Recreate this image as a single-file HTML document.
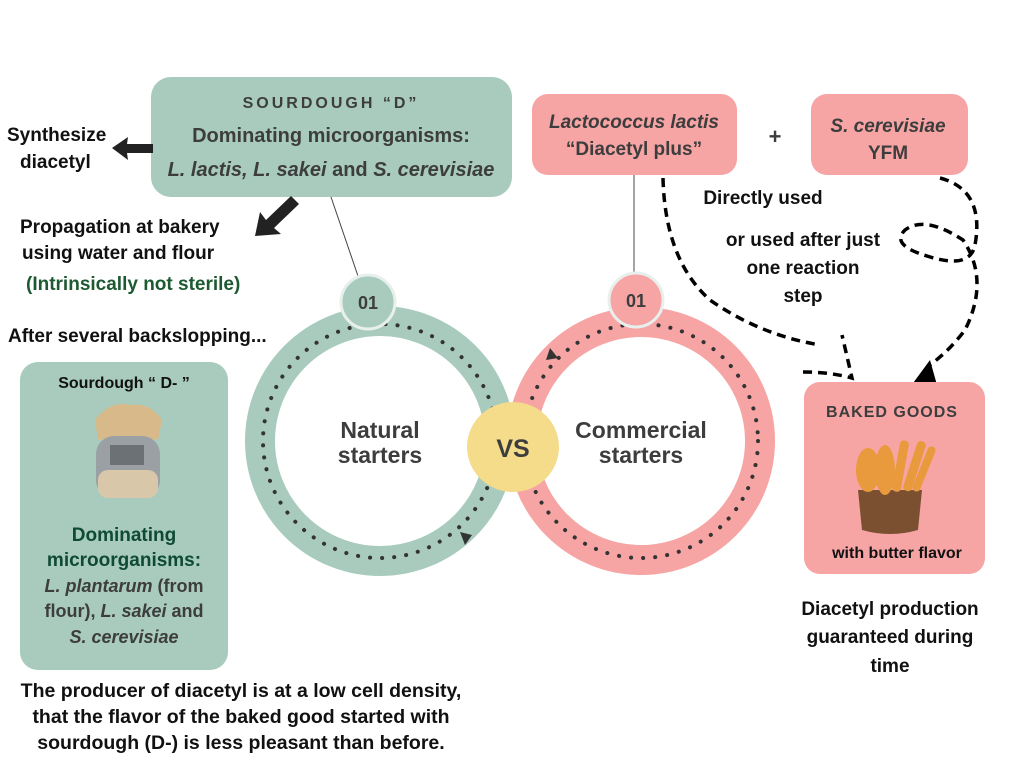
<!DOCTYPE html>
<html><head><meta charset="utf-8"><style>
html,body{margin:0;padding:0;background:#fff;width:1024px;height:768px;overflow:hidden}
svg{display:block}
text{font-family:"Liberation Sans",sans-serif;font-weight:bold}
</style></head><body>
<svg width="1024" height="768" viewBox="0 0 1024 768" xmlns="http://www.w3.org/2000/svg">
<line x1="331" y1="197" x2="358" y2="276" stroke="#444" stroke-width="1"/>
<line x1="634" y1="175" x2="634" y2="276" stroke="#666" stroke-width="1.2"/>
<circle cx="380" cy="441" r="120" fill="none" stroke="#a8cbbd" stroke-width="30"/>
<circle cx="641" cy="441" r="119" fill="none" stroke="#f7a4a4" stroke-width="30"/>
<circle cx="380" cy="441" r="117" fill="none" stroke="#333" stroke-width="4" stroke-dasharray="0.1 12" stroke-linecap="round"/>
<circle cx="641" cy="441" r="117" fill="none" stroke="#333" stroke-width="4" stroke-dasharray="0.1 12" stroke-linecap="round"/>
<polygon points="460,532 472,535 465,545" fill="#333"/>
<polygon points="550,348 558,358 546,360" fill="#333"/>
<ellipse cx="513" cy="447" rx="46" ry="45" fill="#f5dc8a"/>
<text x="513" y="457" font-size="25" fill="#3d3d3d" text-anchor="middle">VS</text>
<text x="380" y="438" font-size="23" fill="#3d3d3d" text-anchor="middle">Natural</text>
<text x="380" y="463" font-size="23" fill="#3d3d3d" text-anchor="middle">starters</text>
<text x="641" y="438" font-size="23" fill="#3d3d3d" text-anchor="middle">Commercial</text>
<text x="641" y="463" font-size="23" fill="#3d3d3d" text-anchor="middle">starters</text>
<circle cx="368" cy="302" r="27" fill="#a8cbbd" stroke="#e8f0ee" stroke-width="3"/>
<text x="368" y="309" font-size="18" fill="#3d3d3d" text-anchor="middle">01</text>
<circle cx="636" cy="300" r="27" fill="#f7a4a4" stroke="#e8f0ee" stroke-width="3"/>
<text x="636" y="307" font-size="18" fill="#3d3d3d" text-anchor="middle">01</text>
<rect x="151" y="77" width="361" height="120" rx="20" fill="#a8cbbd"/>
<text x="331" y="108" font-size="16" fill="#3d3d3d" text-anchor="middle" letter-spacing="3">SOURDOUGH “D”</text>
<text x="331" y="142" font-size="20" fill="#3d3d3d" text-anchor="middle">Dominating microorganisms:</text>
<text x="331" y="176" font-size="20" fill="#3d3d3d" text-anchor="middle"><tspan font-style="italic">L. lactis, L. sakei</tspan> and <tspan font-style="italic">S. cerevisiae</tspan></text>
<polygon points="112,148 128,137 127,144 153,144 153,153 127,153 128,160" fill="#222"/>
<polygon points="255,236 260,212 266,220 291,196 299,204 274,228 281,234" fill="#222"/>
<text x="7" y="141" font-size="19" fill="#111">Synthesize</text>
<text x="20" y="168" font-size="19" fill="#111">diacetyl</text>
<text x="20" y="233" font-size="19" fill="#111">Propagation at bakery</text>
<text x="22" y="259" font-size="19" fill="#111">using water and flour</text>
<text x="26" y="290" font-size="19" fill="#1d5a32">(Intrinsically not sterile)</text>
<text x="8" y="342" font-size="19" fill="#111">After several backslopping...</text>
<rect x="20" y="362" width="208" height="308" rx="18" fill="#a8cbbd"/>
<text x="124" y="388" font-size="16" fill="#111" text-anchor="middle">Sourdough “ D- ”</text>
<path d="M95 420 Q110 400 130 405 Q150 402 162 420 L158 440 Q128 435 98 440 Z" fill="#d8b98a"/>
<rect x="96" y="436" width="64" height="62" rx="18" fill="#9aa0a3"/>
<rect x="98" y="470" width="60" height="28" rx="10" fill="#d9c7aa"/>
<rect x="110" y="445" width="34" height="20" fill="#6b7174"/>
<text x="124" y="541" font-size="19" fill="#0f4a34" text-anchor="middle">Dominating</text>
<text x="124" y="566" font-size="19" fill="#0f4a34" text-anchor="middle">microorganisms:</text>
<text x="124" y="592" font-size="18" fill="#3d3d3d" text-anchor="middle"><tspan font-style="italic">L. plantarum</tspan> (from</text>
<text x="124" y="617" font-size="18" fill="#3d3d3d" text-anchor="middle">flour),  <tspan font-style="italic">L. sakei</tspan> and</text>
<text x="124" y="643" font-size="18" fill="#3d3d3d" text-anchor="middle" font-style="italic">S. cerevisiae</text>
<text x="241" y="697" font-size="19.5" fill="#111" text-anchor="middle">The producer of diacetyl is at a low cell density,</text>
<text x="241" y="723" font-size="19.5" fill="#111" text-anchor="middle">that the flavor of the baked good started with</text>
<text x="241" y="749" font-size="19.5" fill="#111" text-anchor="middle">sourdough (D-) is less pleasant than before.</text>
<rect x="532" y="94" width="205" height="81" rx="16" fill="#f7a4a4"/>
<text x="634" y="128" font-size="19" fill="#3d3d3d" text-anchor="middle" font-style="italic">Lactococcus lactis</text>
<text x="634" y="155" font-size="19" fill="#3d3d3d" text-anchor="middle">“Diacetyl plus”</text>
<text x="775" y="144" font-size="22" fill="#3d3d3d" text-anchor="middle">+</text>
<rect x="811" y="94" width="157" height="81" rx="16" fill="#f7a4a4"/>
<text x="888" y="132" font-size="19" fill="#3d3d3d" text-anchor="middle" font-style="italic">S. cerevisiae</text>
<text x="888" y="159" font-size="19" fill="#3d3d3d" text-anchor="middle">YFM</text>
<g fill="none" stroke="#000" stroke-width="3.5" stroke-dasharray="9 6">
<path d="M663 178 Q665 260 710 300 Q760 335 820 345"/>
<path d="M803 372 Q830 372 852 378 L842 335"/>
<path d="M940 178 Q985 190 975 245 Q970 270 927 256 Q890 245 905 230 Q925 215 963 240 Q990 280 965 330 Q950 350 930 365"/>
</g>
<polygon points="908,390 930,360 937,385" fill="#000"/>
<text x="763" y="204" font-size="19" fill="#111" text-anchor="middle">Directly used</text>
<text x="803" y="246" font-size="19" fill="#111" text-anchor="middle">or used after just</text>
<text x="803" y="274" font-size="19" fill="#111" text-anchor="middle">one reaction</text>
<text x="803" y="302" font-size="19" fill="#111" text-anchor="middle">step</text>
<rect x="804" y="382" width="181" height="192" rx="16" fill="#f7a4a4"/>
<text x="892" y="417" font-size="16" fill="#3d3d3d" text-anchor="middle" letter-spacing="1">BAKED GOODS</text>
<path d="M858 490 L922 490 L918 530 Q890 538 862 530 Z" fill="#7a5030"/>
<g fill="#e89a3c">
<ellipse cx="868" cy="470" rx="12" ry="22"/><ellipse cx="885" cy="470" rx="10" ry="25"/>
<rect x="896" y="440" width="9" height="52" rx="4" transform="rotate(10 900 466)"/>
<rect x="910" y="440" width="9" height="52" rx="4" transform="rotate(18 914 466)"/>
<rect x="920" y="445" width="8" height="48" rx="4" transform="rotate(22 924 469)"/>
</g>
<text x="897" y="558" font-size="16" fill="#111" text-anchor="middle">with butter flavor</text>
<text x="890" y="615" font-size="19" fill="#111" text-anchor="middle">Diacetyl production</text>
<text x="890" y="643" font-size="19" fill="#111" text-anchor="middle">guaranteed during</text>
<text x="890" y="672" font-size="19" fill="#111" text-anchor="middle">time</text>
</svg>
</body></html>
